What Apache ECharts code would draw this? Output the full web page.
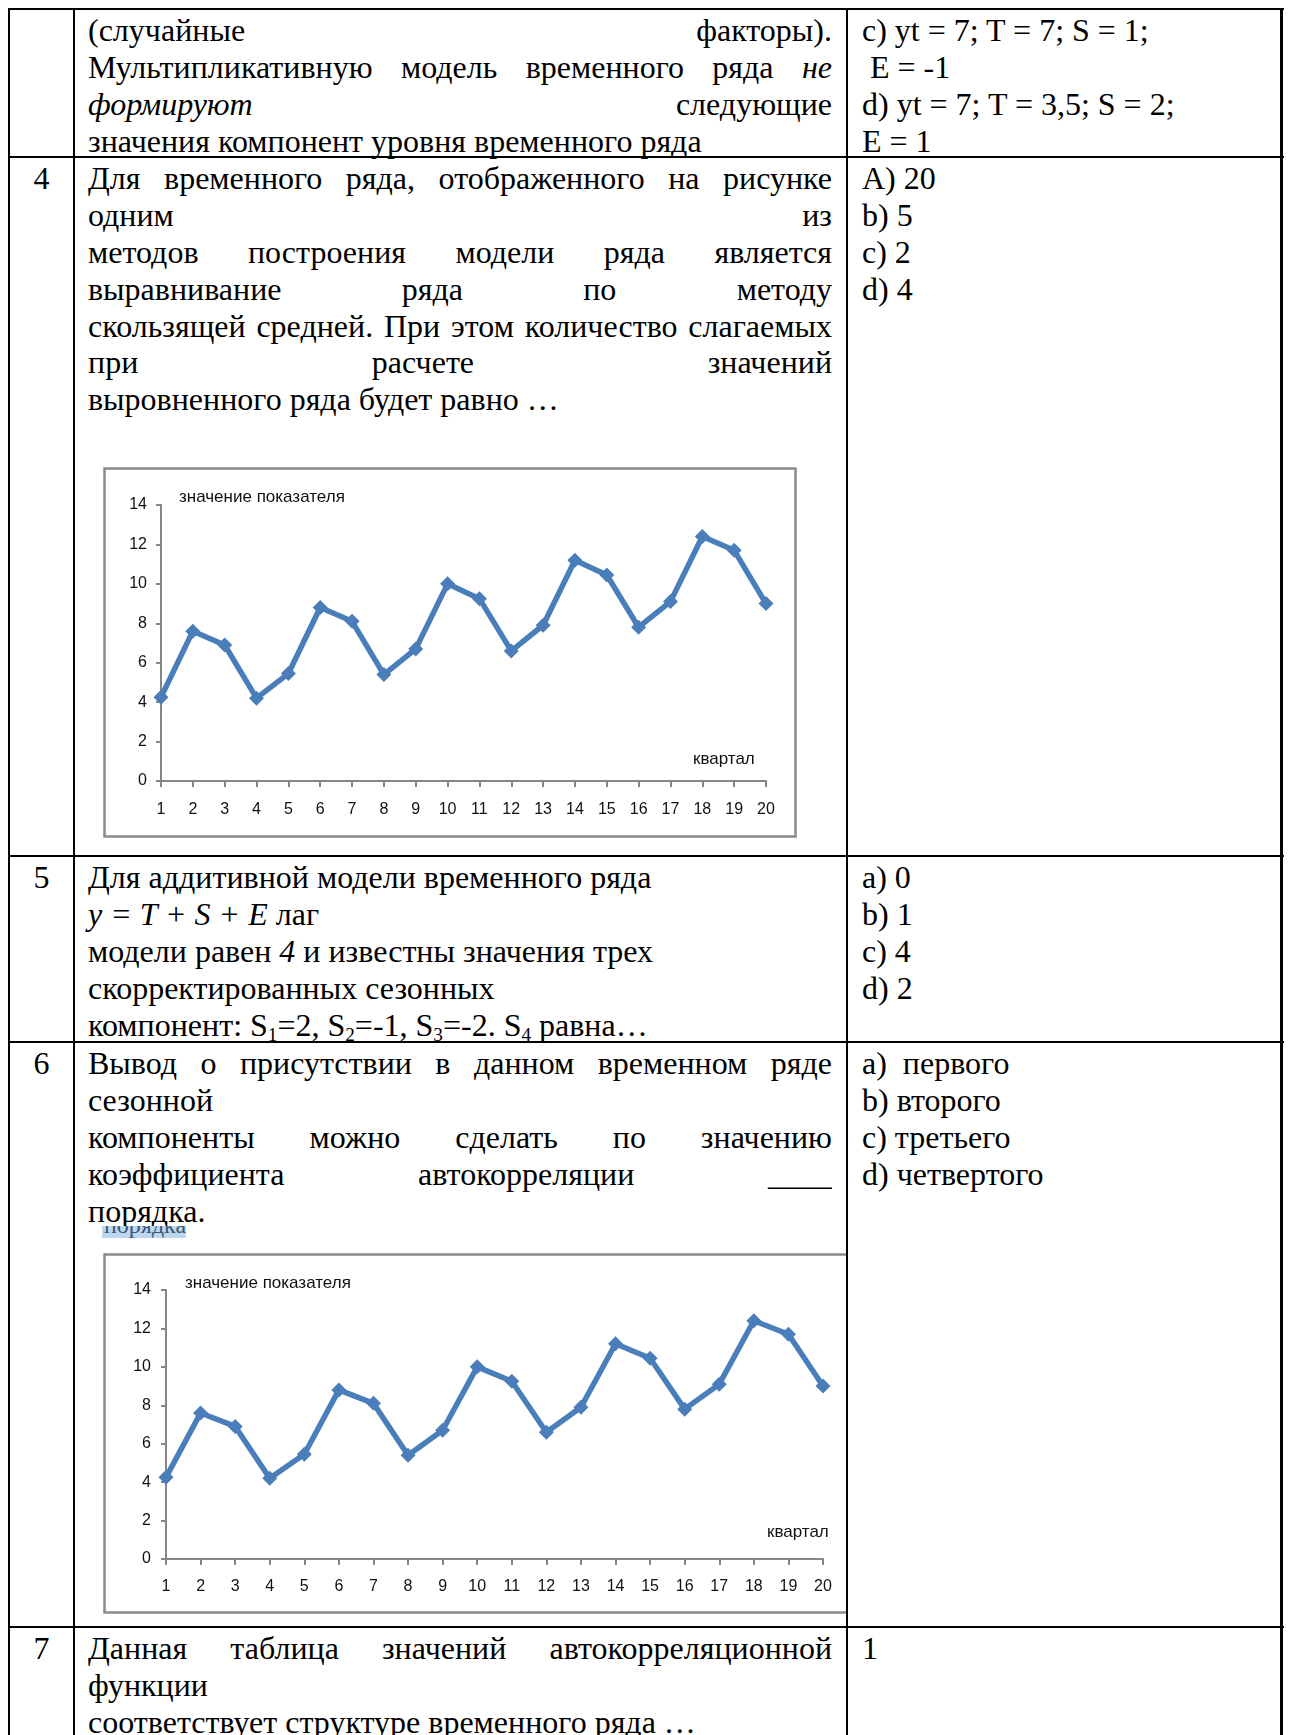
<!DOCTYPE html>
<html><head><meta charset="utf-8">
<script src="https://cdn.jsdelivr.net/npm/echarts@6/dist/echarts.min.js"></script>
<style>
html,body{margin:0;padding:0;background:#fff}
body{width:1290px;height:1735px;position:relative;overflow:hidden;font-family:"Liberation Serif","Times New Roman",serif;font-size:32px;color:#000}
.h{position:absolute;background:#000;height:2px;left:8px;width:1276px}
.v{position:absolute;background:#000;width:2px}
.blk{position:absolute;line-height:36.9px}
.blk div{white-space:nowrap;height:36.9px}
.mid{left:88px;width:744px}
.mid div.j{white-space:normal;text-align:justify;text-align-last:justify;overflow:hidden}
.num{left:10px;width:63px;text-align:center}
.rt{left:862px;width:410px}
sub{font-size:60%;vertical-align:-0.25em;line-height:0}
.chartwrap{position:absolute;overflow:hidden}
</style>
</head><body>
<!-- table grid -->
<div class="h" style="top:8px"></div>
<div class="h" style="top:156px"></div>
<div class="h" style="top:855px"></div>
<div class="h" style="top:1041px"></div>
<div class="h" style="top:1626px"></div>
<div class="v" style="left:8px;top:8px;height:1727px"></div>
<div class="v" style="left:73px;top:8px;height:1727px"></div>
<div class="v" style="left:846px;top:8px;height:1727px"></div>
<div class="v" style="left:1280px;top:8px;height:1727px;width:3px"></div>

<!-- row 3 (continued) -->
<div class="blk mid" style="top:12px">
  <div class="j">(случайные факторы).</div>
  <div class="j">Мультипликативную модель временного ряда <i>не</i></div>
  <div class="j"><i>формируют</i> следующие</div>
  <div>значения компонент уровня временного ряда</div>
</div>
<div class="blk rt" style="top:12px">
  <div>c) yt = 7; T = 7; S = 1;</div>
  <div>&nbsp;E = -1</div>
  <div>d) yt = 7; T = 3,5; S = 2;</div>
  <div>E = 1</div>
</div>

<!-- row 4 -->
<div class="blk num" style="top:160px"><div>4</div></div>
<div class="blk mid" style="top:160px">
  <div class="j">Для временного ряда, отображенного на рисунке</div>
  <div class="j">одним из</div>
  <div class="j">методов построения модели ряда является</div>
  <div class="j">выравнивание ряда по методу</div>
  <div class="j">скользящей средней. При этом количество слагаемых</div>
  <div class="j">при расчете значений</div>
  <div>выровненного ряда будет равно …</div>
</div>
<div class="blk rt" style="top:160px">
  <div>A) 20</div><div>b) 5</div><div>c) 2</div><div>d) 4</div>
</div>
<div class="chartwrap" style="left:103px;top:467px;width:694px;height:371px">
  <div id="chart1" style="width:694px;height:371px"></div>
</div>

<!-- row 5 -->
<div class="blk num" style="top:859px"><div>5</div></div>
<div class="blk mid" style="top:859px">
  <div>Для аддитивной модели временного ряда</div>
  <div><i>y = T + S + E</i> лаг</div>
  <div>модели равен <i>4</i> и известны значения трех</div>
  <div>скорректированных сезонных</div>
  <div>компонент: S<sub>1</sub>=2, S<sub>2</sub>=-1, S<sub>3</sub>=-2. S<sub>4</sub> равна…</div>
</div>
<div class="blk rt" style="top:859px">
  <div>a) 0</div><div>b) 1</div><div>c) 4</div><div>d) 2</div>
</div>

<!-- row 6 -->
<div class="blk num" style="top:1045px"><div>6</div></div>
<div class="blk mid" style="top:1045px">
  <div class="j">Вывод о присутствии в данном временном ряде</div>
  <div>сезонной</div>
  <div class="j">компоненты можно сделать по значению</div>
  <div class="j">коэффициента автокорреляции ____</div>
  <div>порядка.</div>
</div>
<div style="position:absolute;left:102px;top:1226px;width:84px;height:12px;overflow:hidden;background:#bdd7ee">
  <div style="position:absolute;left:2px;top:-16px;font-size:24px;line-height:30px;color:#3b5878;white-space:nowrap">порядка.</div>
</div>
<div class="blk rt" style="top:1045px">
  <div>a)&nbsp; первого</div><div>b) второго</div><div>c) третьего</div><div>d) четвертого</div>
</div>
<div class="chartwrap" style="left:103px;top:1253px;width:743px;height:361px">
  <div id="chart2" style="width:780px;height:361px"></div>
</div>

<!-- row 7 -->
<div class="blk num" style="top:1630px"><div>7</div></div>
<div class="blk mid" style="top:1630px">
  <div class="j">Данная таблица значений автокорреляционной</div>
  <div>функции</div>
  <div>соответствует структуре временного ряда …</div>
</div>
<div class="blk rt" style="top:1630px"><div>1</div></div>

<script>
// ---- data ----
const quarters = ['1','2','3','4','5','6','7','8','9','10','11','12','13','14','15','16','17','18','19','20'];
const indicatorValues = [4.25, 7.6, 6.9, 4.2, 5.45, 8.8, 8.1, 5.4, 6.7, 10.0, 9.25, 6.6, 7.9, 11.2, 10.45, 7.8, 9.1, 12.4, 11.7, 9.0];
const yMin = 0, yMax = 14, yStep = 2;
const yAxisTitle = 'значение показателя';
const xAxisTitle = 'квартал';

// keep justified lines on one line if a font renders slightly wider
document.querySelectorAll('.mid div.j').forEach(function (d) {
  let ls = 0;
  while (d.scrollHeight > 40 && ls > -2) { ls -= 0.2; d.style.letterSpacing = ls + 'px'; }
});

function buildOption(g) {
  const axisColor = '#868686';
  const lblFont = '"Liberation Sans", Arial, sans-serif';
  return {
    animation: false,
    grid: { left: g.left, right: g.right, top: g.top, bottom: g.bottom },
    xAxis: {
      type: 'category', data: quarters, boundaryGap: false,
      axisLine: { lineStyle: { color: axisColor, width: 2 } },
      axisTick: { show: true, interval: 0, length: 6, lineStyle: { color: axisColor, width: 2 } },
      axisLabel: { interval: 0, color: '#111', fontSize: 16, fontFamily: lblFont, margin: g.xm },
      splitLine: { show: false }
    },
    yAxis: {
      type: 'value', min: yMin, max: yMax, interval: yStep,
      axisLine: { show: true, lineStyle: { color: axisColor, width: 2 } },
      axisTick: { show: true, length: 5, lineStyle: { color: axisColor, width: 2 } },
      axisLabel: { color: '#111', fontSize: 16, fontFamily: lblFont, margin: g.ym },
      splitLine: { show: false }
    },
    series: [{
      type: 'line', data: indicatorValues,
      symbol: 'diamond', symbolSize: 15,
      lineStyle: { color: '#4A7EBB', width: 5.5 },
      itemStyle: { color: '#4A7EBB' }
    }],
    graphic: [
      { type: 'rect', shape: { x: 1.5, y: 1.5, width: g.w - 3, height: g.h - 3 },
        style: { fill: 'none', stroke: '#8a8a8a', lineWidth: 2.5 } },
      { type: 'text', left: g.tx, top: g.ty,
        style: { text: yAxisTitle, fill: '#111', font: '17px "Liberation Sans", Arial, sans-serif' } },
      { type: 'text', left: g.qx, top: g.qy,
        style: { text: xAxisTitle, fill: '#111', font: '17px "Liberation Sans", Arial, sans-serif' } }
    ]
  };
}

const c1 = echarts.init(document.getElementById('chart1'), null, { renderer: 'canvas' });
c1.setOption(buildOption({ w: 694, h: 371, left: 58, right: 31, top: 38, bottom: 57, xm: 21, ym: 14,
  tx: 76, ty: 22, qx: 590, qy: 284 }));

const c2 = echarts.init(document.getElementById('chart2'), null, { renderer: 'canvas' });
c2.setOption(buildOption({ w: 780, h: 361, left: 63, right: 60, top: 37, bottom: 55, xm: 20, ym: 15,
  tx: 82, ty: 22, qx: 664, qy: 271 }));
</script>
</body></html>
